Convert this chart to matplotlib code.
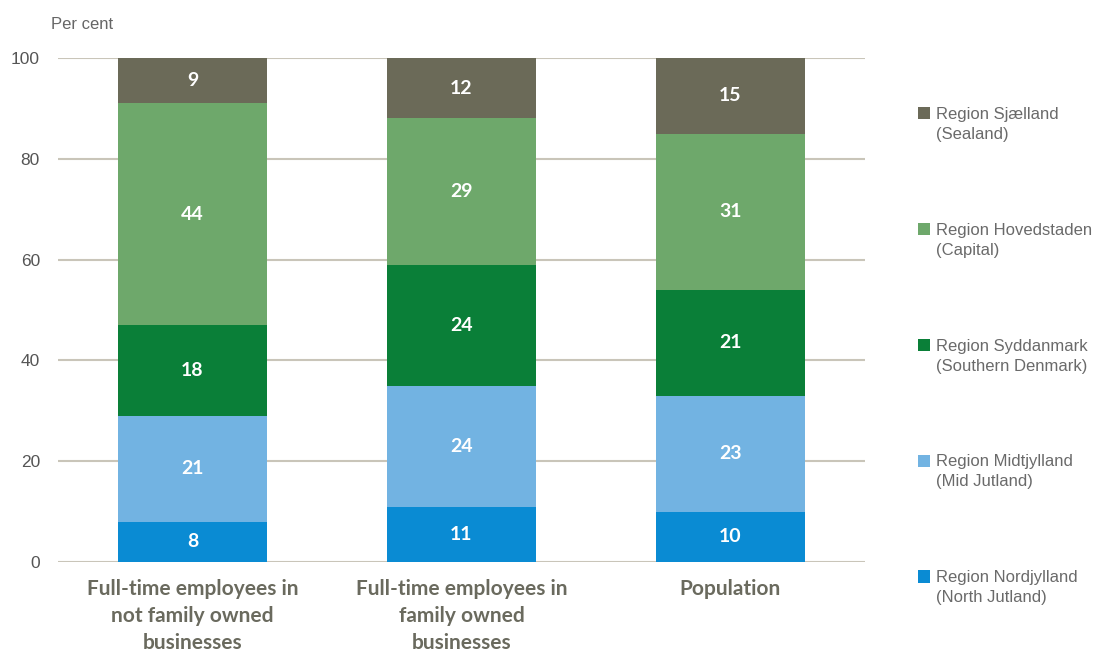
import numpy as np
import matplotlib.pyplot as plt
from matplotlib import font_manager

# Andel pr. region (procent)
categories = ["Full-time employees in\nnot family owned\nbusinesses",
              "Full-time employees in\nfamily owned\nbusinesses",
              "Population"]
region_names = ["Region Nordjylland", "Region Midtjylland", "Region Syddanmark",
                "Region Hovedstaden", "Region Sjælland"]
region_en = ["(North Jutland)", "(Mid Jutland)", "(Southern Denmark)",
             "(Capital)", "(Sealand)"]
nordjylland = [8, 11, 10]
midtjylland = [21, 24, 23]
syddanmark = [18, 24, 21]
hovedstaden = [44, 29, 31]
sjaelland = [9, 12, 15]
yticks = [0, 20, 40, 60, 80, 100]

series = [nordjylland, midtjylland, syddanmark, hovedstaden, sjaelland]
colors = ["#0a8bd3", "#72b3e2", "#0a7f38", "#6ea86b", "#6b6a58"]

installed = {f.name for f in font_manager.fontManager.ttflist}
narrow = "Liberation Sans Narrow" if "Liberation Sans Narrow" in installed else "Lato"
grey = "#6a6a5e"

fig = plt.figure(figsize=(10.98, 6.57), dpi=100)
ax = fig.add_axes([0.0528, 0.1446, 0.735, 0.7671])

x = np.arange(len(categories))
bottom = np.zeros(len(categories))
handles = []
for vals, col, lab in zip(series, colors, region_names):
    bars = ax.bar(x, vals, width=0.557, bottom=bottom, color=col, label=lab, zorder=3)
    ax.bar_label(bars, label_type="center", color="white", fontsize=14,
                 fontweight="bold", family=[narrow, "DejaVu Sans"])
    bottom += np.array(vals)
    handles.append(bars)

ax.set_xlim(-0.5, 2.5)
ax.set_ylim(0, 100)
ax.set_yticks(yticks)
ax.yaxis.grid(True, color="#c9c5b9", linewidth=1.5, zorder=0)
ax.tick_params(axis="y", length=0, labelsize=12.5, labelcolor="#555555", pad=13)
ax.tick_params(axis="x", length=0, pad=12)
for s in ax.spines.values():
    s.set_visible(False)
for lbl in ax.get_yticklabels():
    lbl.set_family(["Liberation Sans", "DejaVu Sans"])
ax.set_xticks(x)
ax.set_xticklabels(categories, fontsize=15, fontweight="bold", color=grey,
                   family=[narrow, "DejaVu Sans"], linespacing=1.45)

fig.text(0.046, 0.962, "Per cent", fontsize=12, color="#666666", ha="left",
         va="center", family=["Liberation Sans", "DejaVu Sans"])

# legende: Sjælland øverst, engelsk navn på linjen under
leg = fig.legend(handles[::-1], region_names[::-1], loc="upper left",
                 bbox_to_anchor=(0.822, 0.86), frameon=False,
                 prop={"family": "Liberation Sans", "size": 12},
                 handlelength=0.75, handleheight=0.75, handletextpad=0.35,
                 labelspacing=6.05)
for t in leg.get_texts():
    t.set_color("#6a6a6a")

fig.canvas.draw()
W, H = fig.bbox.width, fig.bbox.height
for t, sub in zip(leg.get_texts(), region_en[::-1]):
    bb = t.get_window_extent()
    fig.text(bb.x0 / W, (bb.y0 - 5) / H, sub, fontsize=12, color="#6a6a6a",
             ha="left", va="top", family="Liberation Sans")

fig.savefig("out.png", dpi=100)
